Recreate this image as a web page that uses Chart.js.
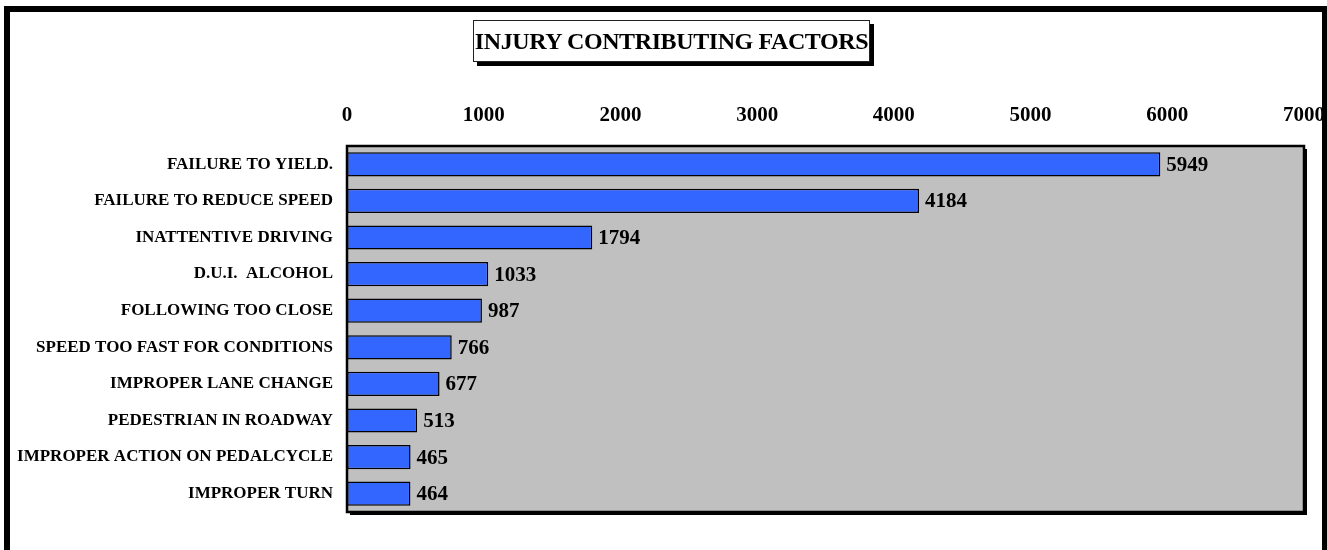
<!DOCTYPE html>
<html>
<head>
<meta charset="utf-8">
<script src="https://cdn.jsdelivr.net/npm/chart.js@4"></script>
<style>
  body { margin: 0; background: #fff; }
  #wrap { position: relative; width: 1327px; height: 550px; overflow: hidden; }
  #frame { position: absolute; left: 4px; top: 6px; width: 1312px; height: 600px;
           border: 6px solid #000; border-bottom: none; box-sizing: content-box; }
  #title { position: absolute; left: 473px; top: 20px; width: 395px; height: 40px;
           border: 1px solid #222; box-shadow: 4px 4px 0 #000; background: #fff;
           font: bold 24px "Liberation Serif", "Times New Roman", serif; color: #000;
           text-align: center; line-height: 41px; letter-spacing: -0.4px; white-space: nowrap; }
  canvas { position: absolute; left: 0; top: 0; }
</style>
</head>
<body>
<div id="wrap">
  <canvas id="chart" width="1327" height="550"></canvas>
  <div id="frame"></div>
  <div id="title">INJURY CONTRIBUTING FACTORS</div>
</div>
<script>
const factors = [
  'FAILURE TO YIELD.',
  'FAILURE TO REDUCE SPEED',
  'INATTENTIVE DRIVING',
  'D.U.I.  ALCOHOL',
  'FOLLOWING TOO CLOSE',
  'SPEED TOO FAST FOR CONDITIONS',
  'IMPROPER LANE CHANGE',
  'PEDESTRIAN IN ROADWAY',
  'IMPROPER ACTION ON PEDALCYCLE',
  'IMPROPER TURN'
];
const injuries = [5949, 4184, 1794, 1033, 987, 766, 677, 513, 465, 464];
const axisMax = 7000;
const axisStep = 1000;

const serif = '"Liberation Serif", "Times New Roman", serif';

// grey plot area with a black frame and a drop shadow
const plotBox = {
  id: 'plotBox',
  beforeDatasetsDraw(chart) {
    const {ctx, chartArea: a} = chart;
    ctx.save();
    ctx.fillStyle = '#000';
    ctx.fillRect(a.left + 3, a.top + 3, a.right - a.left, a.bottom - a.top);
    ctx.fillStyle = '#C0C0C0';
    ctx.fillRect(a.left, a.top, a.right - a.left, a.bottom - a.top);
    ctx.restore();
  },
  afterDatasetsDraw(chart) {
    const {ctx, chartArea: a} = chart;
    ctx.save();
    ctx.strokeStyle = '#000';
    ctx.lineWidth = 2.5;
    ctx.strokeRect(a.left, a.top, a.right - a.left, a.bottom - a.top);
    ctx.restore();
  }
};

// value written just past the end of each bar
const barValues = {
  id: 'barValues',
  afterDatasetsDraw(chart) {
    const ctx = chart.ctx;
    const meta = chart.getDatasetMeta(0);
    ctx.save();
    ctx.font = 'bold 21px ' + serif;
    ctx.fillStyle = '#000';
    ctx.textAlign = 'left';
    ctx.textBaseline = 'middle';
    meta.data.forEach((bar, i) => {
      ctx.fillText(String(injuries[i]), bar.x + 6, bar.y + 1);
    });
    ctx.restore();
  }
};

new Chart(document.getElementById('chart'), {
  type: 'bar',
  data: {
    labels: factors,
    datasets: [{
      data: injuries,
      backgroundColor: '#3366FF',
      borderColor: '#000',
      borderWidth: 1.5,
      borderSkipped: false,
      categoryPercentage: 1,
      barPercentage: 0.66
    }]
  },
  options: {
    indexAxis: 'y',
    responsive: false,
    animation: false,
    layout: { padding: { left: 0, top: 0, right: 23, bottom: 38 } },
    plugins: {
      legend: { display: false },
      tooltip: { enabled: false }
    },
    scales: {
      x: {
        position: 'top',
        min: 0,
        max: axisMax,
        grid: { display: false, drawTicks: false },
        border: { display: false },
        ticks: {
          stepSize: axisStep,
          color: '#000',
          padding: 18,
          font: { family: serif, size: 21, weight: 'bold' },
          callback: v => String(v)
        },
        afterFit(scale) {
          scale.height = 146;
          scale.paddingLeft = 0;
          scale.paddingRight = 0;
        }
      },
      y: {
        grid: { display: false, drawTicks: false },
        border: { display: false },
        ticks: {
          color: '#000',
          padding: 14,
          autoSkip: false,
          font: { family: serif, size: 17, weight: 'bold' }
        },
        afterFit(scale) {
          scale.width = 347;
          scale.paddingTop = 0;
          scale.paddingBottom = 0;
        }
      }
    }
  },
  plugins: [plotBox, barValues]
});
</script>
</body>
</html>
